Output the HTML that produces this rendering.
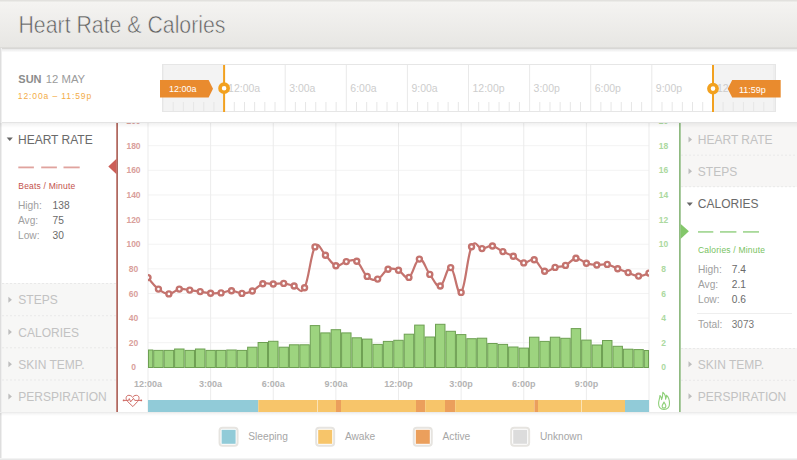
<!DOCTYPE html>
<html><head><meta charset="utf-8"><title>Heart Rate &amp; Calories</title>
<style>
html,body{margin:0;padding:0;background:#fff;}
body{width:797px;height:460px;overflow:hidden;font-family:"Liberation Sans",sans-serif;}
svg{display:block;}
</style></head><body>
<svg width="797" height="460" viewBox="0 0 797 460">
<defs><linearGradient id="hg" x1="0" y1="0" x2="0" y2="1"><stop offset="0" stop-color="#f5f4f2"/><stop offset="1" stop-color="#e7e6e3"/></linearGradient><linearGradient id="sh" x1="0" y1="0" x2="0" y2="1"><stop offset="0" stop-color="#000" stop-opacity="0.10"/><stop offset="1" stop-color="#000" stop-opacity="0"/></linearGradient><clipPath id="pc"><rect x="148" y="123" width="501" height="250"/></clipPath><clipPath id="ac"><rect x="0" y="123" width="797" height="289"/></clipPath><clipPath id="tc"><rect x="162" y="64" width="614" height="48"/></clipPath></defs>
<rect x="0" y="0" width="797" height="48.5" fill="url(#hg)"/>
<rect x="0" y="0" width="797" height="1.5" fill="#e2e1de"/>
<rect x="0" y="47.5" width="797" height="1" fill="#d3d2cf"/>
<rect x="0" y="48.5" width="797" height="4" fill="url(#sh)"/>
<text x="18.5" y="33" font-family='"Liberation Sans", sans-serif' font-size="23.3" fill="#5e5e5e" stroke="#efeeec" stroke-width="0.55" textLength="207" lengthAdjust="spacingAndGlyphs">Heart Rate &amp; Calories</text>
<text x="18.3" y="83.2" font-family='"Liberation Sans", sans-serif' font-size="11" fill="#8c8c8c"><tspan font-weight="bold">SUN</tspan> <tspan fill="#9b9b9b" dx="1.2" font-size="11.3">12 MAY</tspan></text>
<text x="17.8" y="98.9" font-family='"Liberation Sans", sans-serif' font-size="8.5" letter-spacing="0.9" fill="#f3ac48">12:00a – 11:59p</text>
<rect x="162" y="64" width="614" height="48" fill="#fff"/>
<rect x="162" y="64" width="62.1" height="48" fill="#f3f3f3"/>
<rect x="713" y="64" width="63" height="48" fill="#f3f3f3"/>
<g clip-path="url(#tc)">
<rect x="162.50" y="64" width="1" height="48" fill="#e9e9e9"/>
<rect x="172.68" y="102" width="1" height="10" fill="#e6e6e6"/>
<rect x="182.87" y="102" width="1" height="10" fill="#e6e6e6"/>
<rect x="193.05" y="102" width="1" height="10" fill="#e6e6e6"/>
<rect x="203.23" y="102" width="1" height="10" fill="#e6e6e6"/>
<rect x="213.42" y="102" width="1" height="10" fill="#e6e6e6"/>
<rect x="223.60" y="64" width="1" height="48" fill="#e9e9e9"/>
<rect x="233.78" y="102" width="1" height="10" fill="#e6e6e6"/>
<rect x="243.97" y="102" width="1" height="10" fill="#e6e6e6"/>
<rect x="254.15" y="102" width="1" height="10" fill="#e6e6e6"/>
<rect x="264.33" y="102" width="1" height="10" fill="#e6e6e6"/>
<rect x="274.52" y="102" width="1" height="10" fill="#e6e6e6"/>
<rect x="284.70" y="64" width="1" height="48" fill="#e9e9e9"/>
<rect x="294.88" y="102" width="1" height="10" fill="#e6e6e6"/>
<rect x="305.07" y="102" width="1" height="10" fill="#e6e6e6"/>
<rect x="315.25" y="102" width="1" height="10" fill="#e6e6e6"/>
<rect x="325.43" y="102" width="1" height="10" fill="#e6e6e6"/>
<rect x="335.62" y="102" width="1" height="10" fill="#e6e6e6"/>
<rect x="345.80" y="64" width="1" height="48" fill="#e9e9e9"/>
<rect x="355.98" y="102" width="1" height="10" fill="#e6e6e6"/>
<rect x="366.17" y="102" width="1" height="10" fill="#e6e6e6"/>
<rect x="376.35" y="102" width="1" height="10" fill="#e6e6e6"/>
<rect x="386.53" y="102" width="1" height="10" fill="#e6e6e6"/>
<rect x="396.72" y="102" width="1" height="10" fill="#e6e6e6"/>
<rect x="406.90" y="64" width="1" height="48" fill="#e9e9e9"/>
<rect x="417.08" y="102" width="1" height="10" fill="#e6e6e6"/>
<rect x="427.27" y="102" width="1" height="10" fill="#e6e6e6"/>
<rect x="437.45" y="102" width="1" height="10" fill="#e6e6e6"/>
<rect x="447.63" y="102" width="1" height="10" fill="#e6e6e6"/>
<rect x="457.82" y="102" width="1" height="10" fill="#e6e6e6"/>
<rect x="468.00" y="64" width="1" height="48" fill="#e9e9e9"/>
<rect x="478.18" y="102" width="1" height="10" fill="#e6e6e6"/>
<rect x="488.37" y="102" width="1" height="10" fill="#e6e6e6"/>
<rect x="498.55" y="102" width="1" height="10" fill="#e6e6e6"/>
<rect x="508.73" y="102" width="1" height="10" fill="#e6e6e6"/>
<rect x="518.92" y="102" width="1" height="10" fill="#e6e6e6"/>
<rect x="529.10" y="64" width="1" height="48" fill="#e9e9e9"/>
<rect x="539.28" y="102" width="1" height="10" fill="#e6e6e6"/>
<rect x="549.47" y="102" width="1" height="10" fill="#e6e6e6"/>
<rect x="559.65" y="102" width="1" height="10" fill="#e6e6e6"/>
<rect x="569.83" y="102" width="1" height="10" fill="#e6e6e6"/>
<rect x="580.02" y="102" width="1" height="10" fill="#e6e6e6"/>
<rect x="590.20" y="64" width="1" height="48" fill="#e9e9e9"/>
<rect x="600.38" y="102" width="1" height="10" fill="#e6e6e6"/>
<rect x="610.57" y="102" width="1" height="10" fill="#e6e6e6"/>
<rect x="620.75" y="102" width="1" height="10" fill="#e6e6e6"/>
<rect x="630.93" y="102" width="1" height="10" fill="#e6e6e6"/>
<rect x="641.12" y="102" width="1" height="10" fill="#e6e6e6"/>
<rect x="651.30" y="64" width="1" height="48" fill="#e9e9e9"/>
<rect x="661.48" y="102" width="1" height="10" fill="#e6e6e6"/>
<rect x="671.67" y="102" width="1" height="10" fill="#e6e6e6"/>
<rect x="681.85" y="102" width="1" height="10" fill="#e6e6e6"/>
<rect x="692.03" y="102" width="1" height="10" fill="#e6e6e6"/>
<rect x="702.22" y="102" width="1" height="10" fill="#e6e6e6"/>
<rect x="712.40" y="64" width="1" height="48" fill="#e9e9e9"/>
<rect x="722.58" y="102" width="1" height="10" fill="#e6e6e6"/>
<rect x="732.77" y="102" width="1" height="10" fill="#e6e6e6"/>
<rect x="742.95" y="102" width="1" height="10" fill="#e6e6e6"/>
<rect x="753.13" y="102" width="1" height="10" fill="#e6e6e6"/>
<rect x="763.32" y="102" width="1" height="10" fill="#e6e6e6"/>
<rect x="773.50" y="64" width="1" height="48" fill="#e9e9e9"/>
<text x="167.0" y="92" font-family='"Liberation Sans", sans-serif' font-size="10.5" fill="#cdcdcd">9:00p</text>
<text x="228.1" y="92" font-family='"Liberation Sans", sans-serif' font-size="10.5" fill="#cdcdcd">12:00a</text>
<text x="289.2" y="92" font-family='"Liberation Sans", sans-serif' font-size="10.5" fill="#cdcdcd">3:00a</text>
<text x="350.3" y="92" font-family='"Liberation Sans", sans-serif' font-size="10.5" fill="#cdcdcd">6:00a</text>
<text x="411.4" y="92" font-family='"Liberation Sans", sans-serif' font-size="10.5" fill="#cdcdcd">9:00a</text>
<text x="472.5" y="92" font-family='"Liberation Sans", sans-serif' font-size="10.5" fill="#cdcdcd">12:00p</text>
<text x="533.6" y="92" font-family='"Liberation Sans", sans-serif' font-size="10.5" fill="#cdcdcd">3:00p</text>
<text x="594.7" y="92" font-family='"Liberation Sans", sans-serif' font-size="10.5" fill="#cdcdcd">6:00p</text>
<text x="655.8" y="92" font-family='"Liberation Sans", sans-serif' font-size="10.5" fill="#cdcdcd">9:00p</text>
<text x="716.9" y="92" font-family='"Liberation Sans", sans-serif' font-size="10.5" fill="#cdcdcd">12:00a</text>
</g>
<rect x="162.5" y="64.5" width="613" height="47" fill="none" stroke="#e6e6e6" stroke-width="1"/>
<rect x="223.1" y="65" width="2" height="47" fill="#f2a11f"/>
<rect x="712" y="65" width="2" height="47" fill="#f2a11f"/>
<circle cx="224.1" cy="88.2" r="4.1" fill="#fff" stroke="#f2a11f" stroke-width="3.6"/>
<circle cx="713" cy="88.6" r="4.1" fill="#fff" stroke="#f2a11f" stroke-width="3.6"/>
<path d="M160,80 H208.6 L213,88.7 L208.6,97.4 H160 Z" fill="#e98b2e"/>
<text x="169" y="92.3" font-family='"Liberation Sans", sans-serif' font-size="9" fill="#fff">12:00a</text>
<path d="M780.7,80 H732.2 L727.7,88.8 L732.2,97.6 H780.7 Z" fill="#e98b2e"/>
<text x="739" y="92.6" font-family='"Liberation Sans", sans-serif' font-size="9" fill="#fff">11:59p</text>
<rect x="0" y="122" width="797" height="1" fill="#e4e4e4"/>
<rect x="0" y="48" width="1" height="410" fill="#dedede"/><rect x="1" y="48" width="1" height="410" fill="#efefef"/>
<rect x="2" y="283" width="114" height="129" fill="#f7f7f6"/>
<line x1="2" y1="283.5" x2="116" y2="283.5" stroke="#e9e9e9" stroke-width="1" stroke-dasharray="2,2"/>
<line x1="2" y1="315.7" x2="116" y2="315.7" stroke="#e9e9e9" stroke-width="1" stroke-dasharray="2,2"/>
<line x1="2" y1="347.8" x2="116" y2="347.8" stroke="#e9e9e9" stroke-width="1" stroke-dasharray="2,2"/>
<line x1="2" y1="380" x2="116" y2="380" stroke="#e9e9e9" stroke-width="1" stroke-dasharray="2,2"/>
<rect x="681" y="123" width="116" height="64" fill="#f7f6f5"/>
<rect x="681" y="348" width="116" height="64" fill="#f7f6f5"/>
<line x1="681" y1="155.2" x2="797" y2="155.2" stroke="#e9e9e9" stroke-width="1" stroke-dasharray="2,2"/>
<line x1="681" y1="186.7" x2="797" y2="186.7" stroke="#e9e9e9" stroke-width="1" stroke-dasharray="2,2"/>
<line x1="681" y1="348.5" x2="797" y2="348.5" stroke="#e9e9e9" stroke-width="1" stroke-dasharray="2,2"/>
<line x1="681" y1="380.3" x2="797" y2="380.3" stroke="#e9e9e9" stroke-width="1" stroke-dasharray="2,2"/>
<rect x="148" y="366.80" width="501" height="1" fill="#f3f3f3"/>
<rect x="148" y="342.18" width="501" height="1" fill="#f3f3f3"/>
<rect x="148" y="317.56" width="501" height="1" fill="#f3f3f3"/>
<rect x="148" y="292.94" width="501" height="1" fill="#f3f3f3"/>
<rect x="148" y="268.32" width="501" height="1" fill="#f3f3f3"/>
<rect x="148" y="243.70" width="501" height="1" fill="#f3f3f3"/>
<rect x="148" y="219.08" width="501" height="1" fill="#f3f3f3"/>
<rect x="148" y="194.46" width="501" height="1" fill="#f3f3f3"/>
<rect x="148" y="169.84" width="501" height="1" fill="#f3f3f3"/>
<rect x="148" y="145.22" width="501" height="1" fill="#f3f3f3"/>
<rect x="147.50" y="123" width="1" height="289" fill="#ececec"/>
<rect x="210.12" y="123" width="1" height="289" fill="#ececec"/>
<rect x="272.75" y="123" width="1" height="289" fill="#ececec"/>
<rect x="335.38" y="123" width="1" height="289" fill="#ececec"/>
<rect x="398.00" y="123" width="1" height="289" fill="#ececec"/>
<rect x="460.62" y="123" width="1" height="289" fill="#ececec"/>
<rect x="523.25" y="123" width="1" height="289" fill="#ececec"/>
<rect x="585.88" y="123" width="1" height="289" fill="#ececec"/>
<rect x="648.50" y="123" width="1" height="289" fill="#ececec"/>
<g clip-path="url(#ac)">
<text x="133.5" y="370.4" text-anchor="middle" font-family='"Liberation Sans", sans-serif' font-size="8.5" font-weight="bold" fill="#d9a09b">0</text>
<text x="133.5" y="345.8" text-anchor="middle" font-family='"Liberation Sans", sans-serif' font-size="8.5" font-weight="bold" fill="#d9a09b">20</text>
<text x="133.5" y="321.2" text-anchor="middle" font-family='"Liberation Sans", sans-serif' font-size="8.5" font-weight="bold" fill="#d9a09b">40</text>
<text x="133.5" y="296.5" text-anchor="middle" font-family='"Liberation Sans", sans-serif' font-size="8.5" font-weight="bold" fill="#d9a09b">60</text>
<text x="133.5" y="271.9" text-anchor="middle" font-family='"Liberation Sans", sans-serif' font-size="8.5" font-weight="bold" fill="#d9a09b">80</text>
<text x="133.5" y="247.3" text-anchor="middle" font-family='"Liberation Sans", sans-serif' font-size="8.5" font-weight="bold" fill="#d9a09b">100</text>
<text x="133.5" y="222.7" text-anchor="middle" font-family='"Liberation Sans", sans-serif' font-size="8.5" font-weight="bold" fill="#d9a09b">120</text>
<text x="133.5" y="198.1" text-anchor="middle" font-family='"Liberation Sans", sans-serif' font-size="8.5" font-weight="bold" fill="#d9a09b">140</text>
<text x="133.5" y="173.4" text-anchor="middle" font-family='"Liberation Sans", sans-serif' font-size="8.5" font-weight="bold" fill="#d9a09b">160</text>
<text x="133.5" y="148.8" text-anchor="middle" font-family='"Liberation Sans", sans-serif' font-size="8.5" font-weight="bold" fill="#d9a09b">180</text>
<text x="133.5" y="124.2" text-anchor="middle" font-family='"Liberation Sans", sans-serif' font-size="8.5" font-weight="bold" fill="#d9a09b">200</text>
<text x="663.6" y="370.4" text-anchor="middle" font-family='"Liberation Sans", sans-serif' font-size="8.5" font-weight="bold" fill="#acd9a0">0</text>
<text x="663.6" y="345.8" text-anchor="middle" font-family='"Liberation Sans", sans-serif' font-size="8.5" font-weight="bold" fill="#acd9a0">2</text>
<text x="663.6" y="321.2" text-anchor="middle" font-family='"Liberation Sans", sans-serif' font-size="8.5" font-weight="bold" fill="#acd9a0">4</text>
<text x="663.6" y="296.5" text-anchor="middle" font-family='"Liberation Sans", sans-serif' font-size="8.5" font-weight="bold" fill="#acd9a0">6</text>
<text x="663.6" y="271.9" text-anchor="middle" font-family='"Liberation Sans", sans-serif' font-size="8.5" font-weight="bold" fill="#acd9a0">8</text>
<text x="663.6" y="247.3" text-anchor="middle" font-family='"Liberation Sans", sans-serif' font-size="8.5" font-weight="bold" fill="#acd9a0">10</text>
<text x="663.6" y="222.7" text-anchor="middle" font-family='"Liberation Sans", sans-serif' font-size="8.5" font-weight="bold" fill="#acd9a0">12</text>
<text x="663.6" y="198.1" text-anchor="middle" font-family='"Liberation Sans", sans-serif' font-size="8.5" font-weight="bold" fill="#acd9a0">14</text>
<text x="663.6" y="173.4" text-anchor="middle" font-family='"Liberation Sans", sans-serif' font-size="8.5" font-weight="bold" fill="#acd9a0">16</text>
<text x="663.6" y="148.8" text-anchor="middle" font-family='"Liberation Sans", sans-serif' font-size="8.5" font-weight="bold" fill="#acd9a0">18</text>
<text x="663.6" y="124.2" text-anchor="middle" font-family='"Liberation Sans", sans-serif' font-size="8.5" font-weight="bold" fill="#acd9a0">20</text>
</g>
<g clip-path="url(#pc)">
<rect x="148.50" y="350.0" width="4.22" height="17.5" fill="#9dd47f" stroke="#6d9f52" stroke-width="1"/>
<rect x="153.72" y="350.4" width="9.44" height="17.1" fill="#9dd47f" stroke="#6d9f52" stroke-width="1"/>
<rect x="164.16" y="350.4" width="9.44" height="17.1" fill="#9dd47f" stroke="#6d9f52" stroke-width="1"/>
<rect x="174.59" y="349.0" width="9.44" height="18.5" fill="#9dd47f" stroke="#6d9f52" stroke-width="1"/>
<rect x="185.03" y="350.4" width="9.44" height="17.1" fill="#9dd47f" stroke="#6d9f52" stroke-width="1"/>
<rect x="195.47" y="349.0" width="9.44" height="18.5" fill="#9dd47f" stroke="#6d9f52" stroke-width="1"/>
<rect x="205.91" y="350.4" width="9.44" height="17.1" fill="#9dd47f" stroke="#6d9f52" stroke-width="1"/>
<rect x="216.34" y="350.4" width="9.44" height="17.1" fill="#9dd47f" stroke="#6d9f52" stroke-width="1"/>
<rect x="226.78" y="350.0" width="9.44" height="17.5" fill="#9dd47f" stroke="#6d9f52" stroke-width="1"/>
<rect x="237.22" y="350.4" width="9.44" height="17.1" fill="#9dd47f" stroke="#6d9f52" stroke-width="1"/>
<rect x="247.66" y="347.2" width="9.44" height="20.3" fill="#9dd47f" stroke="#6d9f52" stroke-width="1"/>
<rect x="258.09" y="342.5" width="9.44" height="25.0" fill="#9dd47f" stroke="#6d9f52" stroke-width="1"/>
<rect x="268.53" y="341.3" width="9.44" height="26.2" fill="#9dd47f" stroke="#6d9f52" stroke-width="1"/>
<rect x="278.97" y="347.2" width="9.44" height="20.3" fill="#9dd47f" stroke="#6d9f52" stroke-width="1"/>
<rect x="289.41" y="344.8" width="9.44" height="22.7" fill="#9dd47f" stroke="#6d9f52" stroke-width="1"/>
<rect x="299.84" y="344.8" width="9.44" height="22.7" fill="#9dd47f" stroke="#6d9f52" stroke-width="1"/>
<rect x="310.28" y="325.6" width="9.44" height="41.9" fill="#9dd47f" stroke="#6d9f52" stroke-width="1"/>
<rect x="320.72" y="332.9" width="9.44" height="34.6" fill="#9dd47f" stroke="#6d9f52" stroke-width="1"/>
<rect x="331.16" y="329.7" width="9.44" height="37.8" fill="#9dd47f" stroke="#6d9f52" stroke-width="1"/>
<rect x="341.59" y="332.9" width="9.44" height="34.6" fill="#9dd47f" stroke="#6d9f52" stroke-width="1"/>
<rect x="352.03" y="337.8" width="9.44" height="29.7" fill="#9dd47f" stroke="#6d9f52" stroke-width="1"/>
<rect x="362.47" y="339.1" width="9.44" height="28.4" fill="#9dd47f" stroke="#6d9f52" stroke-width="1"/>
<rect x="372.91" y="344.4" width="9.44" height="23.1" fill="#9dd47f" stroke="#6d9f52" stroke-width="1"/>
<rect x="383.34" y="341.4" width="9.44" height="26.1" fill="#9dd47f" stroke="#6d9f52" stroke-width="1"/>
<rect x="393.78" y="340.3" width="9.44" height="27.2" fill="#9dd47f" stroke="#6d9f52" stroke-width="1"/>
<rect x="404.22" y="334.2" width="9.44" height="33.3" fill="#9dd47f" stroke="#6d9f52" stroke-width="1"/>
<rect x="414.66" y="325.1" width="9.44" height="42.4" fill="#9dd47f" stroke="#6d9f52" stroke-width="1"/>
<rect x="425.09" y="337.0" width="9.44" height="30.5" fill="#9dd47f" stroke="#6d9f52" stroke-width="1"/>
<rect x="435.53" y="324.3" width="9.44" height="43.2" fill="#9dd47f" stroke="#6d9f52" stroke-width="1"/>
<rect x="445.97" y="331.3" width="9.44" height="36.2" fill="#9dd47f" stroke="#6d9f52" stroke-width="1"/>
<rect x="456.41" y="334.6" width="9.44" height="32.9" fill="#9dd47f" stroke="#6d9f52" stroke-width="1"/>
<rect x="466.84" y="338.7" width="9.44" height="28.8" fill="#9dd47f" stroke="#6d9f52" stroke-width="1"/>
<rect x="477.28" y="338.2" width="9.44" height="29.3" fill="#9dd47f" stroke="#6d9f52" stroke-width="1"/>
<rect x="487.72" y="343.5" width="9.44" height="24.0" fill="#9dd47f" stroke="#6d9f52" stroke-width="1"/>
<rect x="498.16" y="344.4" width="9.44" height="23.1" fill="#9dd47f" stroke="#6d9f52" stroke-width="1"/>
<rect x="508.59" y="347.0" width="9.44" height="20.5" fill="#9dd47f" stroke="#6d9f52" stroke-width="1"/>
<rect x="519.03" y="348.1" width="9.44" height="19.4" fill="#9dd47f" stroke="#6d9f52" stroke-width="1"/>
<rect x="529.47" y="337.2" width="9.44" height="30.3" fill="#9dd47f" stroke="#6d9f52" stroke-width="1"/>
<rect x="539.91" y="341.4" width="9.44" height="26.1" fill="#9dd47f" stroke="#6d9f52" stroke-width="1"/>
<rect x="550.34" y="337.2" width="9.44" height="30.3" fill="#9dd47f" stroke="#6d9f52" stroke-width="1"/>
<rect x="560.78" y="338.3" width="9.44" height="29.2" fill="#9dd47f" stroke="#6d9f52" stroke-width="1"/>
<rect x="571.22" y="328.6" width="9.44" height="38.9" fill="#9dd47f" stroke="#6d9f52" stroke-width="1"/>
<rect x="581.66" y="340.1" width="9.44" height="27.4" fill="#9dd47f" stroke="#6d9f52" stroke-width="1"/>
<rect x="592.09" y="345.0" width="9.44" height="22.5" fill="#9dd47f" stroke="#6d9f52" stroke-width="1"/>
<rect x="602.53" y="340.5" width="9.44" height="27.0" fill="#9dd47f" stroke="#6d9f52" stroke-width="1"/>
<rect x="612.97" y="346.3" width="9.44" height="21.2" fill="#9dd47f" stroke="#6d9f52" stroke-width="1"/>
<rect x="623.41" y="349.2" width="9.44" height="18.3" fill="#9dd47f" stroke="#6d9f52" stroke-width="1"/>
<rect x="633.84" y="349.6" width="9.44" height="17.9" fill="#9dd47f" stroke="#6d9f52" stroke-width="1"/>
<rect x="644.28" y="350.5" width="4.22" height="17.0" fill="#9dd47f" stroke="#6d9f52" stroke-width="1"/>
<path d="M148.00,277.60 C148.00,277.60 154.26,285.84 158.44,289.10 C162.61,292.36 164.70,293.90 168.88,293.90 C173.05,293.90 175.14,289.86 179.31,289.10 C183.49,288.34 185.57,289.60 189.75,290.10 C193.93,290.60 196.01,290.98 200.19,291.60 C204.36,292.22 206.45,292.94 210.62,293.20 C214.80,293.46 216.89,293.40 221.06,292.90 C225.24,292.40 227.32,290.60 231.50,290.70 C235.68,290.80 237.76,293.34 241.94,293.40 C246.11,293.46 248.20,292.94 252.38,291.00 C256.55,289.06 258.64,285.10 262.81,283.70 C266.99,282.30 269.07,284.06 273.25,284.00 C277.43,283.94 279.51,283.00 283.69,283.40 C287.86,283.80 289.95,285.12 294.12,286.00 C298.30,286.88 300.39,295.62 304.56,287.80 C308.74,279.98 310.82,253.42 315.00,246.90 C319.18,240.38 321.26,251.44 325.44,255.20 C329.61,258.96 331.70,264.42 335.88,265.70 C340.05,266.98 342.14,262.48 346.31,261.60 C350.49,260.72 352.57,258.34 356.75,261.30 C360.93,264.26 363.01,272.84 367.19,276.40 C371.36,279.96 373.45,280.54 377.62,279.10 C381.80,277.66 383.89,270.96 388.06,269.20 C392.24,267.44 394.32,268.66 398.50,270.30 C402.68,271.94 404.76,279.64 408.94,277.40 C413.11,275.16 415.20,259.70 419.38,259.10 C423.55,258.50 425.64,269.02 429.81,274.40 C433.99,279.78 436.07,287.36 440.25,286.00 C444.43,284.64 446.51,266.32 450.69,267.60 C454.86,268.88 456.95,296.58 461.12,292.40 C465.30,288.22 467.39,255.46 471.56,246.70 C475.74,237.94 477.82,248.74 482.00,248.60 C486.18,248.46 488.26,245.40 492.44,246.00 C496.61,246.60 498.70,249.54 502.88,251.60 C507.05,253.66 509.14,254.04 513.31,256.30 C517.49,258.56 519.58,262.20 523.75,262.90 C527.92,263.60 530.01,258.14 534.19,259.80 C538.36,261.46 540.45,269.68 544.62,271.20 C548.80,272.72 550.89,268.56 555.06,267.40 C559.24,266.24 561.33,267.22 565.50,265.40 C569.67,263.58 571.76,258.72 575.94,258.30 C580.11,257.88 582.20,261.96 586.38,263.30 C590.55,264.64 592.64,264.78 596.81,265.00 C600.99,265.22 603.08,263.64 607.25,264.40 C611.42,265.16 613.51,267.16 617.69,268.80 C621.86,270.44 623.95,271.14 628.12,272.60 C632.30,274.06 634.39,276.00 638.56,276.10 C642.74,276.20 649.00,273.10 649.00,273.10" fill="none" stroke="#c4736e" stroke-width="2.2" stroke-linejoin="round"/>
<circle cx="148.00" cy="277.6" r="2.5" fill="#fff" stroke="#c4736e" stroke-width="2.4"/>
<circle cx="158.44" cy="289.1" r="2.5" fill="#fff" stroke="#c4736e" stroke-width="2.4"/>
<circle cx="168.88" cy="293.9" r="2.5" fill="#fff" stroke="#c4736e" stroke-width="2.4"/>
<circle cx="179.31" cy="289.1" r="2.5" fill="#fff" stroke="#c4736e" stroke-width="2.4"/>
<circle cx="189.75" cy="290.1" r="2.5" fill="#fff" stroke="#c4736e" stroke-width="2.4"/>
<circle cx="200.19" cy="291.6" r="2.5" fill="#fff" stroke="#c4736e" stroke-width="2.4"/>
<circle cx="210.62" cy="293.2" r="2.5" fill="#fff" stroke="#c4736e" stroke-width="2.4"/>
<circle cx="221.06" cy="292.9" r="2.5" fill="#fff" stroke="#c4736e" stroke-width="2.4"/>
<circle cx="231.50" cy="290.7" r="2.5" fill="#fff" stroke="#c4736e" stroke-width="2.4"/>
<circle cx="241.94" cy="293.4" r="2.5" fill="#fff" stroke="#c4736e" stroke-width="2.4"/>
<circle cx="252.38" cy="291.0" r="2.5" fill="#fff" stroke="#c4736e" stroke-width="2.4"/>
<circle cx="262.81" cy="283.7" r="2.5" fill="#fff" stroke="#c4736e" stroke-width="2.4"/>
<circle cx="273.25" cy="284.0" r="2.5" fill="#fff" stroke="#c4736e" stroke-width="2.4"/>
<circle cx="283.69" cy="283.4" r="2.5" fill="#fff" stroke="#c4736e" stroke-width="2.4"/>
<circle cx="294.12" cy="286.0" r="2.5" fill="#fff" stroke="#c4736e" stroke-width="2.4"/>
<circle cx="304.56" cy="287.8" r="2.5" fill="#fff" stroke="#c4736e" stroke-width="2.4"/>
<circle cx="315.00" cy="246.9" r="2.5" fill="#fff" stroke="#c4736e" stroke-width="2.4"/>
<circle cx="325.44" cy="255.2" r="2.5" fill="#fff" stroke="#c4736e" stroke-width="2.4"/>
<circle cx="335.88" cy="265.7" r="2.5" fill="#fff" stroke="#c4736e" stroke-width="2.4"/>
<circle cx="346.31" cy="261.6" r="2.5" fill="#fff" stroke="#c4736e" stroke-width="2.4"/>
<circle cx="356.75" cy="261.3" r="2.5" fill="#fff" stroke="#c4736e" stroke-width="2.4"/>
<circle cx="367.19" cy="276.4" r="2.5" fill="#fff" stroke="#c4736e" stroke-width="2.4"/>
<circle cx="377.62" cy="279.1" r="2.5" fill="#fff" stroke="#c4736e" stroke-width="2.4"/>
<circle cx="388.06" cy="269.2" r="2.5" fill="#fff" stroke="#c4736e" stroke-width="2.4"/>
<circle cx="398.50" cy="270.3" r="2.5" fill="#fff" stroke="#c4736e" stroke-width="2.4"/>
<circle cx="408.94" cy="277.4" r="2.5" fill="#fff" stroke="#c4736e" stroke-width="2.4"/>
<circle cx="419.38" cy="259.1" r="2.5" fill="#fff" stroke="#c4736e" stroke-width="2.4"/>
<circle cx="429.81" cy="274.4" r="2.5" fill="#fff" stroke="#c4736e" stroke-width="2.4"/>
<circle cx="440.25" cy="286.0" r="2.5" fill="#fff" stroke="#c4736e" stroke-width="2.4"/>
<circle cx="450.69" cy="267.6" r="2.5" fill="#fff" stroke="#c4736e" stroke-width="2.4"/>
<circle cx="461.12" cy="292.4" r="2.5" fill="#fff" stroke="#c4736e" stroke-width="2.4"/>
<circle cx="471.56" cy="246.7" r="2.5" fill="#fff" stroke="#c4736e" stroke-width="2.4"/>
<circle cx="482.00" cy="248.6" r="2.5" fill="#fff" stroke="#c4736e" stroke-width="2.4"/>
<circle cx="492.44" cy="246.0" r="2.5" fill="#fff" stroke="#c4736e" stroke-width="2.4"/>
<circle cx="502.88" cy="251.6" r="2.5" fill="#fff" stroke="#c4736e" stroke-width="2.4"/>
<circle cx="513.31" cy="256.3" r="2.5" fill="#fff" stroke="#c4736e" stroke-width="2.4"/>
<circle cx="523.75" cy="262.9" r="2.5" fill="#fff" stroke="#c4736e" stroke-width="2.4"/>
<circle cx="534.19" cy="259.8" r="2.5" fill="#fff" stroke="#c4736e" stroke-width="2.4"/>
<circle cx="544.62" cy="271.2" r="2.5" fill="#fff" stroke="#c4736e" stroke-width="2.4"/>
<circle cx="555.06" cy="267.4" r="2.5" fill="#fff" stroke="#c4736e" stroke-width="2.4"/>
<circle cx="565.50" cy="265.4" r="2.5" fill="#fff" stroke="#c4736e" stroke-width="2.4"/>
<circle cx="575.94" cy="258.3" r="2.5" fill="#fff" stroke="#c4736e" stroke-width="2.4"/>
<circle cx="586.38" cy="263.3" r="2.5" fill="#fff" stroke="#c4736e" stroke-width="2.4"/>
<circle cx="596.81" cy="265.0" r="2.5" fill="#fff" stroke="#c4736e" stroke-width="2.4"/>
<circle cx="607.25" cy="264.4" r="2.5" fill="#fff" stroke="#c4736e" stroke-width="2.4"/>
<circle cx="617.69" cy="268.8" r="2.5" fill="#fff" stroke="#c4736e" stroke-width="2.4"/>
<circle cx="628.12" cy="272.6" r="2.5" fill="#fff" stroke="#c4736e" stroke-width="2.4"/>
<circle cx="638.56" cy="276.1" r="2.5" fill="#fff" stroke="#c4736e" stroke-width="2.4"/>
<circle cx="649.00" cy="273.1" r="2.5" fill="#fff" stroke="#c4736e" stroke-width="2.4"/>
</g>
<text x="148.0" y="387" text-anchor="middle" font-family='"Liberation Sans", sans-serif' font-size="9" font-weight="bold" fill="#b3b3b3">12:00a</text>
<text x="210.6" y="387" text-anchor="middle" font-family='"Liberation Sans", sans-serif' font-size="9" font-weight="bold" fill="#b3b3b3">3:00a</text>
<text x="273.2" y="387" text-anchor="middle" font-family='"Liberation Sans", sans-serif' font-size="9" font-weight="bold" fill="#b3b3b3">6:00a</text>
<text x="335.9" y="387" text-anchor="middle" font-family='"Liberation Sans", sans-serif' font-size="9" font-weight="bold" fill="#b3b3b3">9:00a</text>
<text x="398.5" y="387" text-anchor="middle" font-family='"Liberation Sans", sans-serif' font-size="9" font-weight="bold" fill="#b3b3b3">12:00p</text>
<text x="461.1" y="387" text-anchor="middle" font-family='"Liberation Sans", sans-serif' font-size="9" font-weight="bold" fill="#b3b3b3">3:00p</text>
<text x="523.8" y="387" text-anchor="middle" font-family='"Liberation Sans", sans-serif' font-size="9" font-weight="bold" fill="#b3b3b3">6:00p</text>
<text x="586.4" y="387" text-anchor="middle" font-family='"Liberation Sans", sans-serif' font-size="9" font-weight="bold" fill="#b3b3b3">9:00p</text>
<rect x="148" y="400" width="110.3" height="12" fill="#91cbd8"/>
<rect x="258.3" y="400" width="77.7" height="12" fill="#f7c56a"/>
<rect x="336" y="400" width="5.0" height="12" fill="#eb9f5c"/>
<rect x="341" y="400" width="75.0" height="12" fill="#f7c56a"/>
<rect x="416" y="400" width="9.2" height="12" fill="#eb9f5c"/>
<rect x="425.2" y="400" width="19.8" height="12" fill="#f7c56a"/>
<rect x="445" y="400" width="10.2" height="12" fill="#eb9f5c"/>
<rect x="455.2" y="400" width="79.2" height="12" fill="#f7c56a"/>
<rect x="534.4" y="400" width="3.6" height="12" fill="#eb9f5c"/>
<rect x="538" y="400" width="87.0" height="12" fill="#f7c56a"/>
<rect x="625" y="400" width="24.0" height="12" fill="#91cbd8"/>
<rect x="317" y="400" width="1" height="12" fill="#fbe3b5"/>
<rect x="581" y="400" width="1" height="12" fill="#fbe3b5"/>
<rect x="116" y="123" width="1" height="289" fill="#c98a82"/><rect x="117" y="123" width="1" height="289" fill="#ab6a62"/>
<rect x="679" y="123" width="1" height="289" fill="#8fba80"/><rect x="680" y="123" width="1" height="289" fill="#aacba0"/>
<path d="M108.3,166.5 L116.5,158.7 L116.5,174.3 Z" fill="#cc5f58"/>
<path d="M688.9,231.3 L680.5,223.7 L680.5,238.9 Z" fill="#83c76a"/>
<g fill="none" stroke="#cf6b65" stroke-width="1" stroke-linejoin="round" stroke-linecap="round"><path d="M132.6,406.3 L127.3,401.2 C125.6,399.5 125.4,395.4 128.9,395.3 C130.8,395.3 132,396.4 132.6,397.4 C133.2,396.4 134.4,395.3 136.3,395.3 C139.8,395.4 139.6,399.5 137.9,401.2 Z"/><path d="M123.6,400.4 H128.5 L129.3,398.6 L130.6,401.9 L133.5,398.4 L134.7,400.4 H141.3"/></g>
<circle cx="123.6" cy="400.4" r="0.9" fill="#cf6b65"/><circle cx="141.3" cy="400.4" r="0.9" fill="#cf6b65"/>
<g fill="none" stroke="#8fd07a" stroke-width="1.1" stroke-linejoin="round"><path d="M664,409.4 C660.7,409.4 658.6,407 658.6,403.5 C658.6,400.3 659.9,398.5 659.9,395.5 C661,396.5 661.6,398 661.6,399.6 C662.6,397.5 662.8,395 662.8,392.2 C664.5,393.5 665.8,395.5 665.6,399.3 C666.4,398 666.6,396.5 666.4,395.2 C668.5,397 669.5,400.2 669.5,403.5 C669.5,407 667.3,409.4 664,409.4 Z"/><path d="M664,408 C662.6,408 662,407 662.2,405.8 C662.4,404.5 663.6,403.5 664,402 C664.6,403.5 665.8,404.6 665.8,405.8 C665.9,407 665.3,408 664,408 Z"/></g>
<path d="M6.7,137.6 L12.8,137.6 L9.75,140.9 Z" fill="#666"/>
<text x="18" y="143.8" font-family='"Liberation Sans", sans-serif' font-size="12" fill="#6a6a6a" letter-spacing="0">HEART RATE</text>
<rect x="18.3" y="166.5" width="15.6" height="1.8" fill="#e0a39e"/>
<rect x="41.2" y="166.5" width="15.7" height="1.8" fill="#e0a39e"/>
<rect x="63.5" y="166.5" width="16.2" height="1.8" fill="#e0a39e"/>
<text x="18.3" y="188.7" font-family='"Liberation Sans", sans-serif' font-size="8.5" letter-spacing="0.2" fill="#c2514b">Beats / Minute</text>
<text x="18" y="208.5" font-family='"Liberation Sans", sans-serif' font-size="10.2" fill="#a0a0a0">High:</text>
<text x="52.6" y="208.5" font-family='"Liberation Sans", sans-serif' font-size="10.2" fill="#6a6a6a">138</text>
<text x="18" y="223.7" font-family='"Liberation Sans", sans-serif' font-size="10.2" fill="#a0a0a0">Avg:</text>
<text x="52.6" y="223.7" font-family='"Liberation Sans", sans-serif' font-size="10.2" fill="#6a6a6a">75</text>
<text x="18" y="238.9" font-family='"Liberation Sans", sans-serif' font-size="10.2" fill="#a0a0a0">Low:</text>
<text x="52.6" y="238.9" font-family='"Liberation Sans", sans-serif' font-size="10.2" fill="#6a6a6a">30</text>
<path d="M8.4,296.8 L11.9,299.8 L8.4,302.8 Z" fill="#bdbdbd"/>
<text x="18.3" y="304.3" font-family='"Liberation Sans", sans-serif' font-size="12" fill="#c2c2c2" letter-spacing="0">STEPS</text>
<path d="M8.4,329.0 L11.9,332.0 L8.4,335.0 Z" fill="#bdbdbd"/>
<text x="18.3" y="336.5" font-family='"Liberation Sans", sans-serif' font-size="12" fill="#c2c2c2" letter-spacing="0">CALORIES</text>
<path d="M8.4,361.20000000000005 L11.9,364.20000000000005 L8.4,367.20000000000005 Z" fill="#bdbdbd"/>
<text x="18.3" y="368.7" font-family='"Liberation Sans", sans-serif' font-size="12" fill="#c2c2c2" letter-spacing="0">SKIN TEMP.</text>
<path d="M8.4,393.40000000000003 L11.9,396.40000000000003 L8.4,399.40000000000003 Z" fill="#bdbdbd"/>
<text x="18.3" y="400.9" font-family='"Liberation Sans", sans-serif' font-size="12" fill="#c2c2c2" letter-spacing="0">PERSPIRATION</text>
<path d="M688.5,136.5 L692.0,139.5 L688.5,142.5 Z" fill="#bdbdbd"/>
<text x="697.8" y="143.8" font-family='"Liberation Sans", sans-serif' font-size="12" fill="#c2c2c2" letter-spacing="0">HEART RATE</text>
<path d="M688.5,168.3 L692.0,171.3 L688.5,174.3 Z" fill="#bdbdbd"/>
<text x="697.8" y="175.6" font-family='"Liberation Sans", sans-serif' font-size="12" fill="#c2c2c2" letter-spacing="0">STEPS</text>
<path d="M686.7,202.6 L692.8,202.6 L689.75,205.9 Z" fill="#666"/>
<text x="697.8" y="208" font-family='"Liberation Sans", sans-serif' font-size="12" fill="#6a6a6a" letter-spacing="0">CALORIES</text>
<rect x="698" y="231" width="15.3" height="1.8" fill="#a8d99a"/>
<rect x="720" y="231" width="16.4" height="1.8" fill="#a8d99a"/>
<rect x="743" y="231" width="16.0" height="1.8" fill="#a8d99a"/>
<text x="698" y="253.3" font-family='"Liberation Sans", sans-serif' font-size="8.5" letter-spacing="0.2" fill="#78c262">Calories / Minute</text>
<text x="698" y="272.6" font-family='"Liberation Sans", sans-serif' font-size="10.2" fill="#a0a0a0">High:</text>
<text x="731.8" y="272.6" font-family='"Liberation Sans", sans-serif' font-size="10.2" fill="#6a6a6a">7.4</text>
<text x="698" y="288.0" font-family='"Liberation Sans", sans-serif' font-size="10.2" fill="#a0a0a0">Avg:</text>
<text x="731.8" y="288.0" font-family='"Liberation Sans", sans-serif' font-size="10.2" fill="#6a6a6a">2.1</text>
<text x="698" y="303.4" font-family='"Liberation Sans", sans-serif' font-size="10.2" fill="#a0a0a0">Low:</text>
<text x="731.8" y="303.4" font-family='"Liberation Sans", sans-serif' font-size="10.2" fill="#6a6a6a">0.6</text>
<rect x="697" y="313" width="95" height="1" fill="#eeeeee"/>
<text x="698" y="328" font-family='"Liberation Sans", sans-serif' font-size="10.2" fill="#a0a0a0">Total:</text>
<text x="731.8" y="328" font-family='"Liberation Sans", sans-serif' font-size="10" fill="#767676">3073</text>
<path d="M688.5,361.2 L692.0,364.2 L688.5,367.2 Z" fill="#bdbdbd"/>
<text x="697.8" y="368.5" font-family='"Liberation Sans", sans-serif' font-size="12" fill="#c2c2c2" letter-spacing="0">SKIN TEMP.</text>
<path d="M688.5,393.2 L692.0,396.2 L688.5,399.2 Z" fill="#bdbdbd"/>
<text x="697.8" y="400.5" font-family='"Liberation Sans", sans-serif' font-size="12" fill="#c2c2c2" letter-spacing="0">PERSPIRATION</text>
<rect x="0" y="123" width="797" height="5" fill="url(#sh)" opacity="0.55"/>
<rect x="0" y="412" width="797" height="1" fill="#ececec"/>
<rect x="0" y="413" width="797" height="3" fill="url(#sh)" opacity="0.5"/>
<rect x="219.55" y="427.75" width="18" height="18" rx="3" fill="#fff" stroke="#e6e4e0" stroke-width="2"/>
<rect x="221.60" y="429.8" width="14" height="14" fill="#91cbd8"/>
<text x="248.3" y="440.4" font-family='"Liberation Sans", sans-serif' font-size="10.2" fill="#a6a6a6">Sleeping</text>
<rect x="316.15" y="427.75" width="18" height="18" rx="3" fill="#fff" stroke="#e6e4e0" stroke-width="2"/>
<rect x="318.20" y="429.8" width="14" height="14" fill="#f7c56a"/>
<text x="344.9" y="440.4" font-family='"Liberation Sans", sans-serif' font-size="10.2" fill="#a6a6a6">Awake</text>
<rect x="413.75" y="427.75" width="18" height="18" rx="3" fill="#fff" stroke="#e6e4e0" stroke-width="2"/>
<rect x="415.80" y="429.8" width="14" height="14" fill="#eb9f5c"/>
<text x="442.5" y="440.4" font-family='"Liberation Sans", sans-serif' font-size="10.2" fill="#a6a6a6">Active</text>
<rect x="511.15" y="427.75" width="18" height="18" rx="3" fill="#fff" stroke="#e6e4e0" stroke-width="2"/>
<rect x="513.20" y="429.8" width="14" height="14" fill="#dcdcdc"/>
<text x="539.9" y="440.4" font-family='"Liberation Sans", sans-serif' font-size="10.2" fill="#a6a6a6">Unknown</text>
<rect x="0" y="458.5" width="797" height="1.5" fill="#e8e8e8"/>
</svg>
</body></html>
